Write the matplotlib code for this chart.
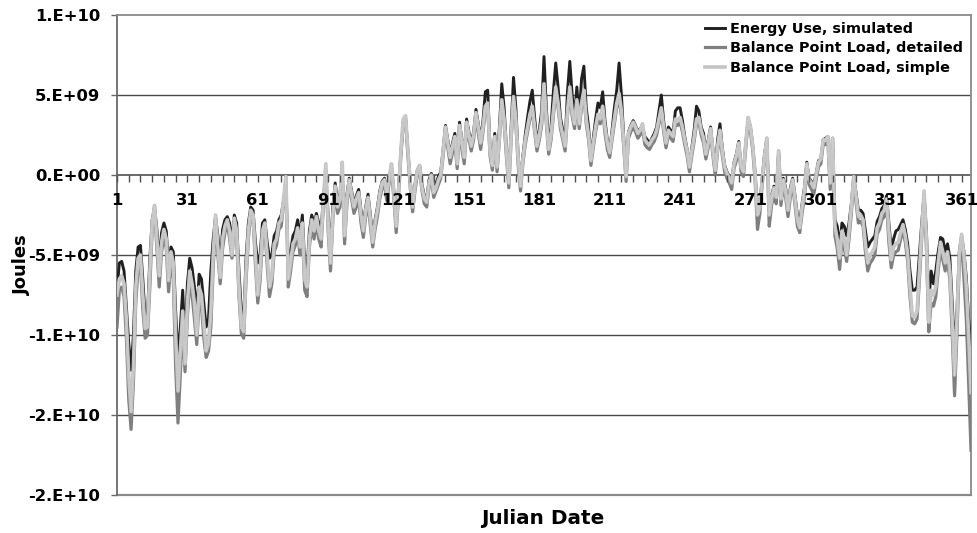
import matplotlib
matplotlib.use("Agg")
import matplotlib.pyplot as plt
from matplotlib.ticker import FixedLocator, FuncFormatter
import numpy as np

plt.rcParams["font.family"] = ["DejaVu Sans"]
plt.rcParams["font.weight"] = "bold"

# daily values, units of 1e9 J
energy_use = [
    -7.2, -5.5, -5.4, -6.0, -8.2, -10.5, -12.2, -10, -6, -4.5,
    -4.4, -6.5, -8.9, -8.8, -5.2, -2.8, -2.0, -3.4, -5.5, -3.6,
    -3.0, -3.5, -5.8, -4.5, -4.8, -8.5, -11.5, -9.5, -7.2, -10.5,
    -6.8, -5.2, -5.8, -7, -8.8, -6.2, -6.5, -8, -9.5, -9,
    -6, -4, -2.6, -3.8, -5.5, -3.4, -2.8, -2.6, -3, -4.2,
    -2.5, -3, -6, -8.5, -9, -5.2, -3, -2.0, -2.2, -4.2,
    -5.5, -5, -3, -2.8, -4.2, -5.2, -5, -3.8, -3.5, -2.8,
    -2.5, -1.6, -0.8, -5.5, -4.8, -3.8, -3.5, -2.8, -3.8, -2.5,
    -5.5, -6, -3.5, -2.5, -3, -2.4, -3, -3.5, -1.3, -0.2,
    -2.5, -4.8, -2, -0.5, -1.6, -1.2, 0, -3.2, -1.2, -0.2,
    -1, -1.8, -1.3, -0.9, -2.2, -3.1, -2, -1.2, -2.5, -3.8,
    -2.8, -2, -1, -0.4, -0.2, -1, -0.1, 0.5, -1, -3,
    -0.8, 1.4, 3.3, 3.6, 1.5, -0.4, -1.8, -0.6, 0.3, 0.6,
    -0.6, -1.3, -1.5, -0.3, 0.1, -0.9, -0.5, -0.1, 0.2, 1.6,
    3.1, 2.2, 1.3, 2.0, 2.6, 0.9, 3.3, 2.2, 1.3, 3.5,
    2.7, 2.0, 2.7, 4.1, 3.2, 2.2, 3.4, 5.2, 5.3, 1.7,
    0.8, 2.6, 0.7, 3.0, 5.7, 4.2, 1.7, -0.3, 3.0, 6.1,
    4.2, 1.2, -0.5, 1.2, 2.5, 3.6, 4.6, 5.3, 3.6, 2.0,
    2.8, 4, 7.4, 4.2, 1.8, 3, 5.2, 7.0, 5.5, 3.6,
    2.8, 2.0, 5.2, 7.1, 5.0, 3.6, 5.5, 3.6, 6.0, 6.8,
    4.2, 3, 1.0, 2.3, 3.5, 4.5, 4.2, 5.2, 3.4, 2.2,
    1.5, 2.8, 4.2, 5.3, 7.0, 5.0, 2.3, 0, 2.7, 3.1,
    3.4, 3.1, 2.7, 2.9, 3.0, 2.4, 2.2, 2.0, 2.3, 2.6,
    3.0, 4.0, 5.0, 3.4, 2.1, 3.0, 2.8, 2.6, 4.0, 4.2,
    4.2, 3.4, 2.4, 1.6, 0.6, 1.7, 2.8, 4.3, 4.0, 3.0,
    2.6, 1.4, 2.2, 3.0, 1.6, 0.4, 2.2, 3.2, 1.7, 0.6,
    0.2, -0.1, -0.4, 0.8, 1.3, 2.1, 0.6, 0.3, 2.0, 3.5,
    3.0, 1.8, 0.1, -2.2, -1.8, -0.2, 1.3, 2.3, -2.2, -1.3,
    -0.7, -1.2, 1.5, -1.3, -0.2, -0.8, -2.0, -0.8, -0.2, -1.3,
    -2.5, -2.9, -1.8, -0.8, 0.8, -0.2, -0.4, -0.6, 0.1, 0.9,
    1.0, 2.2, 2.3, 2.4, -0.4, 2.3, -2.8, -3.2, -4.5, -3.0,
    -3.2, -3.8, -3.0, -1.8, -0.1, -1.1, -2.2, -2.2, -2.4, -3.5,
    -4.5, -4.2, -4.0, -3.8, -2.9, -2.6, -2.1, -1.9, -1.3, -3.0,
    -4.6, -4.0, -3.5, -3.4, -3.1, -2.8, -3.4, -4.3, -6, -7.2,
    -7.2, -7, -5, -3, -1.2, -3.5, -8, -6.0, -6.8, -6.0,
    -4.8, -3.9, -4.0, -4.8, -4.3, -5.2, -8, -11, -8.5, -4.8,
    -3.8, -4.8, -6.4, -9, -10.6,
]

bp_detailed = [
    -9.5, -7.2, -7.0, -7.6, -10.2, -14, -15.9, -13, -8, -5.8,
    -5.6, -8.4, -10.2, -10, -7, -3.4, -2.2, -4.6, -7.0, -4.8,
    -3.8, -4.6, -7.3, -5.4, -6.5, -12, -15.5, -12.5, -9.4, -12.3,
    -8.8, -6.8, -7.5, -9, -10.6, -7.8, -8.2, -10.2, -11.4, -11,
    -9.5, -5.8, -2.8, -5, -6.8, -4.6, -3.6, -3, -4, -5.2,
    -3, -4, -7.6, -9.9, -10.2, -6.6, -4, -2.4, -2.8, -5.6,
    -8, -6.6, -4, -3.3, -5.6, -7.6, -6.8, -4.8, -4.4, -3.4,
    -3.2, -1.8, -0.3, -7, -6, -4.8, -4.4, -3.6, -5, -3.4,
    -7.2, -7.6, -4.5, -3.2, -4, -3, -4, -4.5, -1.8, 0.3,
    -3.5, -6, -2.8, -1, -2.4, -2, 0.4, -4.3, -1.8, -0.6,
    -1.5, -2.4, -2, -1.5, -3, -3.9, -2.6, -1.8, -3.2, -4.5,
    -3.4, -2.6, -1.5, -0.8, -0.6, -1.6, -0.5, 0.4, -1.5, -3.6,
    -1.3, 1.2, 3.2, 3.4, 1.2, -0.8, -2.3, -1, 0, 0.3,
    -1, -1.8, -2, -0.8, -0.3, -1.4, -1, -0.6, -0.2, 1.2,
    2.7, 1.7, 0.7, 1.4, 2, 0.4, 2.8, 1.6, 0.7, 3,
    2.2, 1.5, 2.2, 3.6, 2.6, 1.6, 2.7, 4, 4.2, 1.2,
    0.3, 2.1, 0.2, 2.2, 4.4, 3.2, 1.1, -0.8, 2.2, 4.6,
    3.2, 0.6, -1, 0.7, 1.9, 2.7, 3.5, 4, 2.7, 1.5,
    2.2, 3.1, 5.4, 3.2, 1.3, 2.2, 3.7, 5.2, 4.2, 2.9,
    2.2, 1.5, 3.7, 5.2, 3.7, 2.9, 4.4, 2.9, 4.2, 5.0,
    3.2, 2.2, 0.6, 1.7, 2.7, 3.5, 3.2, 4, 2.6, 1.6,
    1.1, 2.2, 3.2, 4.2, 4.8, 3.7, 1.7, -0.4, 2.3, 2.7,
    3.0, 2.7, 2.3, 2.5, 2.9, 1.9, 1.7, 1.6, 1.9, 2.1,
    2.5, 3.2, 3.9, 2.7, 1.7, 2.5, 2.3, 2.1, 3.2, 3.1,
    3.3, 2.7, 1.9, 1.2, 0.2, 1.2, 2.1, 3.2, 3.3, 2.5,
    2.0, 1.0, 1.7, 2.6, 1.2, 0.0, 1.5, 2.5, 1.2, 0.2,
    -0.2, -0.5, -0.9, 0.4, 0.9, 1.7, 0.2, -0.1, 1.7, 3.3,
    2.7, 1.5, -0.4, -3.4, -2.4, -0.6, 0.9, 2.0, -3.2, -1.9,
    -1.2, -1.8, 1.2, -1.9, -0.6, -1.4, -2.6, -1.4, -0.6, -1.9,
    -3.2, -3.6, -2.4, -1.4, 0.4, -0.6, -0.9, -1.2, -0.3, 0.5,
    0.7, 1.9, 1.9, 2.1, -0.9, 2.0, -3.8, -4.6, -5.9, -4.0,
    -4.6, -5.4, -4, -2.4, -0.4, -1.7, -3.0, -2.9, -3.2, -4.8,
    -6, -5.5, -5.3, -5.0, -3.7, -3.4, -2.8, -2.6, -1.8, -4.2,
    -5.8, -5, -4.8, -4.7, -4.0, -3.5, -4.2, -5.4, -7.6, -9.2,
    -9.3, -9, -6.6, -4, -1.3, -4.6, -9.8, -8, -8.2, -7.6,
    -6, -4.7, -5.3, -6, -5.3, -6.6, -10, -13.8, -10, -5.6,
    -4.2, -6.5, -9, -13, -17.2,
]

bp_simple = [
    -7.5, -6.5, -6.3, -6.8, -9, -12.5, -14.8, -12, -7, -5.2,
    -5.0, -7.5, -9.6, -9.5, -6, -3, -1.9, -4, -6.3, -4.2,
    -3.4, -4, -6.6, -4.8, -5.5, -10, -13.5, -11, -8.5, -11.8,
    -8, -6, -6.8, -8, -10, -7, -7.5, -9.3, -11, -10.5,
    -8.5, -5, -2.5, -4.5, -6.4, -4, -3.2, -2.8, -3.5, -5,
    -2.7, -3.5, -7, -9.5, -9.8, -6, -3.5, -2.2, -2.5, -5,
    -7.5, -6, -3.5, -3, -5, -7, -6.3, -4.3, -4, -3,
    -2.8, -1.5, -0.1, -6.5, -5.5, -4.3, -4, -3.3, -4.5, -3,
    -6.5, -7, -4, -2.8, -3.5, -2.6, -3.5, -4, -1.5, 0.7,
    -3, -5.5, -2.5, -0.7, -2, -1.5, 0.8, -3.8, -1.5, -0.3,
    -1.2, -2, -1.5, -1.1, -2.5, -3.5, -2.2, -1.4, -2.8, -4.2,
    -3, -2.2, -1.2, -0.5, -0.3, -1.2, -0.2, 0.7, -1.1, -3.2,
    -1, 1.5, 3.5, 3.7, 1.5, -0.5, -2, -0.7, 0.3, 0.6,
    -0.8, -1.5, -1.7, -0.5, 0, -1.1, -0.8, -0.3, 0, 1.5,
    3, 2, 1.1, 1.8, 2.4, 0.7, 3.1, 2, 1.1, 3.3,
    2.5, 1.8, 2.5, 3.9, 3, 2, 3, 4.3, 4.5, 1.5,
    0.6, 2.4, 0.5, 2.5, 4.7, 3.5, 1.5, -0.5, 2.5, 4.9,
    3.5, 1, -0.7, 1, 2.2, 3, 3.8, 4.3, 3, 1.8,
    2.5, 3.4, 5.7, 3.5, 1.6, 2.5, 4, 5.5, 4.5, 3.2,
    2.5, 1.8, 4, 5.5, 4, 3.2, 4.7, 3.2, 4.5, 5.3,
    3.5, 2.5, 0.9, 2, 3, 3.8, 3.5, 4.3, 3, 2,
    1.4, 2.5, 3.5, 4.5, 5.1, 4, 2, -0.1, 2.6, 3,
    3.3, 3, 2.6, 2.8, 3.2, 2.2, 2, 1.9, 2.2, 2.4,
    2.8, 3.5, 4.2, 3, 2, 2.8, 2.6, 2.4, 3.5, 3.4,
    3.6, 3.0, 2.2, 1.5, 0.5, 1.5, 2.4, 3.5, 3.6, 2.8,
    2.3, 1.3, 2, 2.9, 1.5, 0.3, 1.8, 2.8, 1.5, 0.5,
    0.1, -0.2, -0.5, 0.7, 1.2, 2, 0.5, 0.2, 2, 3.6,
    3, 1.8, 0, -2.5, -2, -0.3, 1.2, 2.3, -2.5, -1.5,
    -0.8, -1.4, 1.5, -1.5, -0.3, -1, -2.2, -1, -0.3, -1.5,
    -2.8, -3.3, -2, -1, 0.7, -0.3, -0.5, -0.8, 0, 0.8,
    1, 2.2, 2.2, 2.4, -0.5, 2.3, -3.2, -4, -5.2, -3.5,
    -4, -5, -3.5, -2, -0.1, -1.3, -2.6, -2.5, -2.8, -4.3,
    -5.5, -5, -4.8, -4.5, -3.3, -3, -2.4, -2.2, -1.5, -3.5,
    -5.3, -4.5, -4.3, -4.2, -3.6, -3.1, -3.8, -4.9, -7, -8.8,
    -8.9, -8.5, -6, -3.5, -1, -4, -9.2, -7.2, -7.5, -7,
    -5.5, -4.2, -4.8, -5.5, -4.8, -6, -9, -12.5, -9, -5,
    -3.7, -5, -7, -10, -13.6,
]

days = np.arange(1, len(bp_simple) + 1)
scale = 1e9

fig = plt.figure(figsize=(9.77, 5.33), dpi=100)
ax = fig.add_axes([117 / 977, 38 / 533, 854 / 977, 480 / 533])

frame = "#8a8a8a"
grid = "#4a4a4a"

for y in [5e9, -5e9, -1e10, -1.5e10]:
    ax.axhline(y, color=grid, lw=1.0, zorder=1)

ax.plot(days, np.array(energy_use) * scale, color="#202020", lw=2.1,
        label="Energy Use, simulated", zorder=3)
ax.plot(days, np.array(bp_detailed) * scale, color="#7f7f7f", lw=2.3,
        label="Balance Point Load, detailed", zorder=4)
ax.plot(days, np.array(bp_simple) * scale, color="#c4c4c4", lw=2.6,
        label="Balance Point Load, simple", zorder=5)
# speckled texture on the simple-model line
ax.plot(days, np.array(bp_simple) * scale, color="white", lw=0.7,
        ls=(0, (0.6, 1.4)), alpha=0.45, zorder=5.5)

ax.set_xlim(1, 365)
ax.set_ylim(-2e10, 1e10)

# category axis sits on the zero line; keep a plain border at the bottom
for side in ["top", "right", "left"]:
    ax.spines[side].set_color(frame)
    ax.spines[side].set_linewidth(1.3)
ax.spines["left"].set_color("#6a6a6a")
ax.spines["bottom"].set_position(("data", 0))
ax.spines["bottom"].set_color("#505050")
ax.spines["bottom"].set_linewidth(1.2)
ax.spines["bottom"].set_zorder(2)
ax.axhline(-2e10, color=frame, lw=1.6, clip_on=False, zorder=2)

ax.xaxis.set_major_locator(FixedLocator(np.arange(1, 366, 30)))
ax.xaxis.set_minor_locator(FixedLocator(np.arange(1, 366, 5)))
ax.tick_params(axis="x", which="both", direction="out", length=5, width=1,
               color="#505050")
ax.tick_params(axis="x", which="major", pad=8, labelsize=11.8)
ax.xaxis.set_zorder(6)

ax.yaxis.set_major_locator(FixedLocator(np.arange(-2e10, 1.01e10, 5e9)))
ax.yaxis.set_major_formatter(FuncFormatter(lambda v, p: f"{v:.0E}".replace("E", ".E")))
ax.tick_params(axis="y", direction="out", length=4, width=1, color="#6a6a6a",
               pad=8, labelsize=11.8)

for lab in ax.get_xticklabels() + ax.get_yticklabels():
    lab.set_fontweight("bold")

ax.set_ylabel("Joules", fontsize=13, fontweight="bold")
ax.yaxis.set_label_coords(-86 / 854, 0.48)
fig.text(543 / 977, 1 - 518 / 533, "Julian Date", fontsize=14.4,
         fontweight="bold", ha="center", va="center")

leg = ax.legend(loc="upper left", bbox_to_anchor=((698 - 117) / 854, 1.0),
                frameon=False, fontsize=10.4, handlelength=1.4,
                handletextpad=0.35, labelspacing=0.36, borderaxespad=0.0,
                borderpad=0.5)
for t in leg.get_texts():
    t.set_fontweight("bold")

fig.savefig("out.png", dpi=100, facecolor="white")
